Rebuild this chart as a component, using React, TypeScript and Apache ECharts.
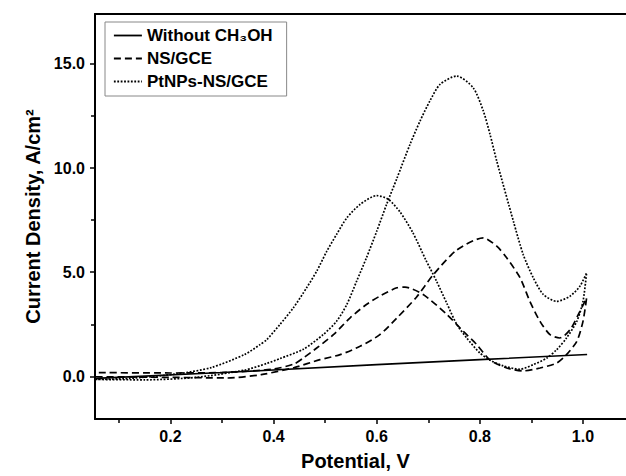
import React, { useEffect, useRef } from "react";
import * as echarts from "echarts";

const X_MIN = 0.0536;
const X_MAX = 1.0834;
const Y_MIN = -2.05;
const Y_MAX = 17.4;

const xMajorTicks = [0.2, 0.4, 0.6, 0.8, 1.0];
const xMinorTicks = [0.1, 0.3, 0.5, 0.7, 0.9];
const yMajorTicks = [0, 5, 10, 15];
const yMinorTicks = [2.5, 7.5, 12.5];

const seriesNames = ["Without CH₃OH", "NS/GCE", "PtNPs-NS/GCE"];

const withoutCH3OH: number[][] = [
  [0.055, -0.1], [0.3, 0.18], [0.6, 0.56], [0.8, 0.8], [1.008, 1.05],
];

const nsGCE: number[][] = [
  [0.055, -0.02], [0.2, -0.05], [0.31, -0.08], [0.376, 0.08], [0.44, 0.42],
  [0.49, 0.8], [0.529, 1.04], [0.5675, 1.44], [0.606, 2.0], [0.639, 2.8],
  [0.677, 3.8], [0.709, 4.86], [0.755, 6.06], [0.8067, 6.65], [0.8327, 6.25],
  [0.852, 5.69], [0.878, 4.73], [0.897, 3.6], [0.9166, 2.64], [0.936, 2.0],
  [0.955, 1.84], [0.975, 2.24], [0.994, 3.12], [1.007, 3.76],
  [1.0, 2.64], [0.988, 1.68], [0.968, 1.04], [0.949, 0.64], [0.9166, 0.4],
  [0.884, 0.26], [0.852, 0.4], [0.8197, 0.78], [0.794, 1.52], [0.768, 2.16],
  [0.736, 2.97], [0.69, 3.93], [0.6548, 4.28], [0.639, 4.25], [0.606, 3.85],
  [0.58, 3.45], [0.548, 2.8], [0.516, 2.0], [0.4836, 1.36], [0.4576, 0.88],
  [0.44, 0.6], [0.4, 0.35], [0.3, 0.18], [0.2, 0.16], [0.055, 0.18],
];

const ptNPs: number[][] = [
  [0.055, -0.15], [0.15, -0.17], [0.25, -0.05], [0.344, 0.3], [0.387, 0.62],
  [0.412, 0.85], [0.4576, 1.3], [0.496, 2.0], [0.522, 2.64], [0.542, 3.45],
  [0.561, 4.57], [0.58, 5.69], [0.6, 6.97], [0.619, 8.25], [0.639, 9.5],
  [0.6645, 11.14], [0.684, 12.26], [0.703, 13.22], [0.7227, 14.02], [0.755, 14.42],
  [0.787, 13.86], [0.8067, 12.74], [0.8197, 11.62], [0.8327, 10.34], [0.865, 7.45],
  [0.884, 5.85], [0.9036, 4.73], [0.923, 3.93], [0.949, 3.6], [0.975, 3.85],
  [0.994, 4.33], [1.007, 4.97],
  [1.0, 3.6], [0.988, 2.64], [0.968, 1.84], [0.949, 1.28], [0.93, 0.88],
  [0.9036, 0.56], [0.878, 0.34], [0.8455, 0.5], [0.8197, 0.78], [0.8, 1.12],
  [0.7745, 1.84], [0.755, 2.5], [0.736, 3.5], [0.716, 4.57], [0.695, 5.6],
  [0.67, 6.9], [0.645, 7.9], [0.6225, 8.5], [0.6, 8.68], [0.5675, 8.25],
  [0.542, 7.61], [0.522, 6.81], [0.503, 6.0], [0.4836, 5.05], [0.464, 4.25],
  [0.438, 3.28], [0.412, 2.48], [0.3866, 1.76], [0.3736, 1.52], [0.344, 1.05],
  [0.279, 0.42], [0.214, 0.12], [0.12, -0.1], [0.055, -0.15],
];

const FONT = "'Liberation Sans', Arial, sans-serif";

export default function App() {
  const ref = useRef<HTMLDivElement>(null);
  useEffect(() => {
    if (!ref.current) return;
    const chart = echarts.init(ref.current, null, { renderer: "svg" });
    const axisLine = { show: true, onZero: false, lineStyle: { color: "#000", width: 2 } };
    const labelStyle = {
      color: "#000",
      fontSize: 16,
      fontWeight: "bold" as const,
      fontFamily: FONT,
    };
    const nameStyle = {
      color: "#000",
      fontSize: 20,
      fontWeight: "bold" as const,
      fontFamily: FONT,
    };
    chart.setOption({
      animation: false,
      backgroundColor: "#fff",
      grid: { left: 95, right: 0, top: 14, bottom: 57, containLabel: false },
      legend: {
        show: true,
        orient: "vertical",
        left: 105,
        top: 22,
        itemWidth: 28,
        itemHeight: 16,
        itemGap: 6,
        padding: [5, 14, 6, 8],
        borderColor: "#888",
        borderWidth: 1,
        backgroundColor: "#fff",
        itemStyle: { opacity: 0, borderWidth: 0 },
        lineStyle: { width: 1.8 },
        textStyle: { ...labelStyle, fontSize: 17 },
        data: seriesNames,
      },
      xAxis: [
        {
          type: "value",
          min: X_MIN,
          max: X_MAX,
          position: "bottom",
          axisLine,
          axisTick: { show: true, customValues: xMajorTicks, length: 5, lineStyle: { color: "#000", width: 1.5 } },
          axisLabel: {
            show: true,
            customValues: xMajorTicks,
            formatter: (v: number) => v.toFixed(1),
            margin: 9,
            ...labelStyle,
          },
          splitLine: { show: false },
          name: "Potential, V",
          nameLocation: "middle",
          nameGap: 32,
          nameTextStyle: { ...nameStyle, padding: [0, 10, 0, 0] },
        },
        {
          type: "value",
          min: X_MIN,
          max: X_MAX,
          position: "bottom",
          axisLine: { show: false, onZero: false },
          axisTick: { show: true, customValues: xMinorTicks, length: 4, lineStyle: { color: "#000", width: 1.5 } },
          axisLabel: { show: false },
          splitLine: { show: false },
        },
        {
          type: "value",
          min: X_MIN,
          max: X_MAX,
          position: "top",
          axisLine,
          axisTick: { show: false },
          axisLabel: { show: false },
          splitLine: { show: false },
        },
      ],
      yAxis: [
        {
          type: "value",
          min: Y_MIN,
          max: Y_MAX,
          position: "left",
          axisLine,
          axisTick: { show: true, customValues: yMajorTicks, length: 5, lineStyle: { color: "#000", width: 1.5 } },
          axisLabel: {
            show: true,
            customValues: yMajorTicks,
            formatter: (v: number) => v.toFixed(1),
            margin: 10,
            ...labelStyle,
          },
          splitLine: { show: false },
          name: "Current Density, A/cm²",
          nameLocation: "middle",
          nameGap: 51,
          nameRotate: 90,
          nameTextStyle: { ...nameStyle },
        },
        {
          type: "value",
          min: Y_MIN,
          max: Y_MAX,
          position: "left",
          axisLine: { show: false, onZero: false },
          axisTick: { show: true, customValues: yMinorTicks, length: 4, lineStyle: { color: "#000", width: 1.5 } },
          axisLabel: { show: false },
          splitLine: { show: false },
        },
      ],
      series: [
        {
          name: seriesNames[0],
          type: "line",
          data: withoutCH3OH,
          showSymbol: false,
          symbol: "none",
          lineStyle: { color: "#000", width: 1.6, type: "solid" },
          itemStyle: { color: "#000" },
        },
        {
          name: seriesNames[1],
          type: "line",
          data: nsGCE,
          showSymbol: false,
          symbol: "none",
          smooth: 0.25,
          lineStyle: { color: "#000", width: 1.7, type: [7, 4] },
          itemStyle: { color: "#000" },
        },
        {
          name: seriesNames[2],
          type: "line",
          data: ptNPs,
          showSymbol: false,
          symbol: "none",
          smooth: 0.25,
          lineStyle: { color: "#000", width: 1.7, type: [1.8, 1.6] },
          itemStyle: { color: "#000" },
        },
      ],
    });
    return () => chart.dispose();
  }, []);
  return (
    <div
      ref={ref}
      style={{ position: "absolute", left: 0, top: 0, width: 626, height: 476 }}
    />
  );
}
